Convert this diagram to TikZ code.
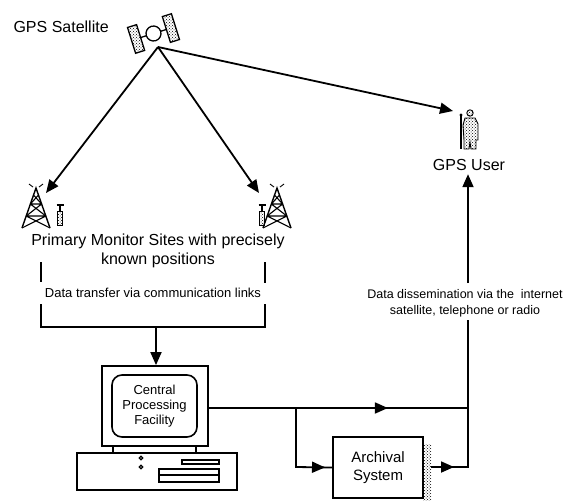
\documentclass[tikz,border=0pt]{standalone}
\usepackage{fontspec}
\setmainfont{Liberation Sans}
\usetikzlibrary{arrows.meta,patterns,decorations.markings}

\begin{document}
\begin{tikzpicture}[x=1pt,y=-1pt,
  wire/.style={line width=1.8pt},
  tipend/.style={-{Triangle[length=13pt,width=11pt]}},
  midtip/.style={postaction={decorate},
    decoration={markings,mark=at position #1 with {\arrow{Triangle[length=13pt,width=11pt]}}}},
  big/.style={font=\fontsize{16}{19}\selectfont},
  small/.style={font=\fontsize{12.5}{16}\selectfont},
  mid/.style={font=\fontsize{13}{15}\selectfont},
  stipple/.style={pattern=crosshatch dots},
  tower/.pic={
    \draw[line width=1.4pt] (-14,0) -- (0,-40) -- (14,0);
    \draw[line width=1.1pt] (-9.8,-12) -- (9.8,-12) (-5.6,-24) -- (5.6,-24)
      (-14,0) -- (9.8,-12) (14,0) -- (-9.8,-12)
      (-9.8,-12) -- (5.6,-24) (9.8,-12) -- (-5.6,-24)
      (-5.6,-24) -- (2.5,-33) (5.6,-24) -- (-2.5,-33);
    \draw[line width=0.9pt] (-3,-41) -- (-7,-44) (3,-41) -- (7,-44);
  },
  mast/.pic={
    \draw[line width=1.2pt] (0,-20) -- (0,-14) (-3.5,-20) -- (3.5,-20);
    \draw[line width=0.9pt,stipple] (-2.2,-14) rectangle (2.2,0);
  }]
\useasboundingbox (0,0) rectangle (572,501);

% --- satellite ---
\begin{scope}[shift={(153.5,33.5)},rotate=17.4]
  \draw[line width=1.3pt] (0,0) circle (7.5);
  \draw[line width=1.3pt] (-13.5,0) -- (-7.5,0) (7.5,0) -- (13.5,0);
  \filldraw[line width=1.3pt,stipple] (-23,-13.5) rectangle (-13.5,13.5);
  \filldraw[line width=1.3pt,stipple] (13.5,-13.5) rectangle (23,13.5);
\end{scope}
\coordinate (sat) at (158,47);
\node[big,anchor=west] (satlabel) at (10,27) {GPS Satellite};

% --- monitor sites ---
\pic at (36,228) {tower};
\pic at (60,225) {mast};
\pic at (277,228) {tower};
\pic at (262,225) {mast};
\coordinate (ltip) at (46,193);
\coordinate (rtip) at (259,193);

% --- GPS user ---
\draw[line width=1.3pt] (461,116) -- (461,149);
\fill (461,115) circle (1.6);
\filldraw[line width=0.9pt,pattern=crosshatch dots]
  (470,113) circle (3.2);
\filldraw[line width=0.9pt,pattern=crosshatch dots]
  (465,118) -- (475,118) -- (478,124) -- (478,140) -- (476,140) -- (476,149)
  -- (471,149) -- (470,142) -- (469,149) -- (464,149) -- (464,140) -- (463,125) -- cycle;
\coordinate (utip) at (453,111);
\node[big] (user) at (469,165) {GPS User};

% --- satellite signals ---
\draw[wire,tipend] (sat) -- (ltip);
\draw[wire,tipend] (sat) -- (rtip);
\draw[wire,tipend] (sat) -- (utip);

% --- monitor sites text and data-link bracket ---
\node[big,align=center] (sites) at (158,251) {Primary Monitor Sites with precisely\\known positions};
\node[mid] (xfer) at (153,293) {Data transfer via communication links};
\coordinate (bl1) at (41,262); \coordinate (bl2) at (41,282);
\coordinate (br1) at (265,262); \coordinate (br2) at (265,283);
\coordinate (bl3) at (41,304); \coordinate (br3) at (265,304);
\coordinate (bm) at (156,327);
\draw[wire] (bl1) -- (bl2);
\draw[wire] (br1) -- (br2);
\draw[wire] (bl3) -- (41,327) -- (265,327) -- (br3);

% --- central processing computer ---
\node[draw,line width=1.8pt,minimum width=106pt,minimum height=80pt] (mon) at (155,406) {};
\node[draw,line width=1.6pt,rounded corners=10pt,minimum width=85pt,minimum height=62pt,
  align=center,mid] (cpf) at (154.5,406) {Central\\Processing\\Facility};
\draw[wire,tipend] (bm) -- (bm|-mon.north);
\draw[line width=1.6pt] (113,446) -- (113,453) (196,446) -- (196,453);
\draw[line width=1.6pt] (77,453) rectangle (237,490);
\draw[line width=1.2pt] (141,458) circle (1.8) (141,467) circle (1.8);
\draw[line width=1.2pt] (182,460) rectangle (219,464);
\draw[line width=1.2pt] (159,469) rectangle (219,475) (159,475) rectangle (219,482);

% --- archival system ---
\fill[pattern=crosshatch dots] (423,444) rectangle (431,500);
\node[draw,line width=1.6pt,fill=white,minimum width=90pt,minimum height=61pt,
  align=center,font=\fontsize{15}{18}\selectfont] (arch) at (378,467.5) {Archival\\System};
\coordinate (shadowe) at (431,467);

% --- distribution paths ---
\coordinate (j1) at (296,408);
\coordinate (j2) at (468,408);
\coordinate (up1) at (468,320);
\coordinate (up2) at (468,283);
\draw[wire,midtip=179pt] (mon.east|-j1) -- (j2);
\draw[wire,midtip=88pt] (j1) -- (296,467) -- (arch.west);
\draw[wire,midtip=23pt] (shadowe) -- (468,467) -- (up1);
\node[small,align=center] (diss) at (465,303) {Data dissemination via the\ \ internet\\satellite, telephone or radio};
\draw[wire,tipend] (up2) -- (user.south-|up2);
\end{tikzpicture}
\end{document}
